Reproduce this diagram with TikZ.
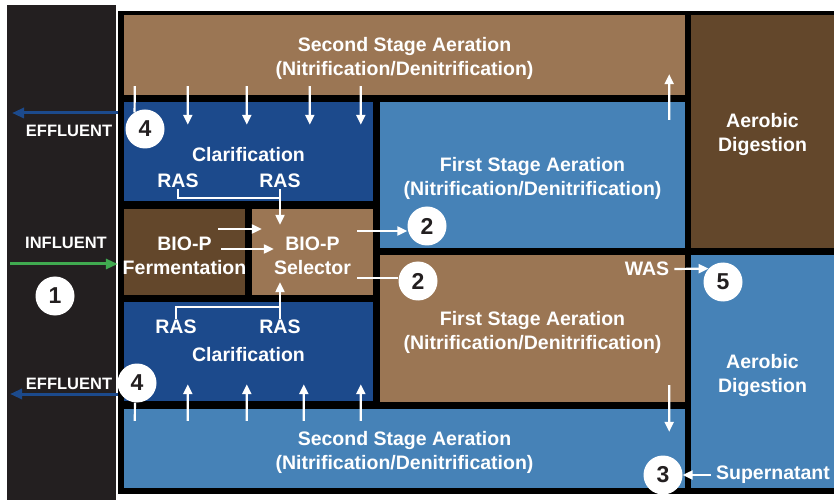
\documentclass[tikz,border=0pt]{standalone}
\usepackage{fontspec}
\setmainfont{Liberation Sans}
\usepackage{tikz}
\usetikzlibrary{positioning,calc,arrows.meta}
\definecolor{panelgray}{RGB}{35,31,32}
\definecolor{brownlight}{RGB}{155,118,84}
\definecolor{browndark}{RGB}{99,71,43}
\definecolor{bluedark}{RGB}{28,74,140}
\definecolor{bluelight}{RGB}{70,130,183}
\definecolor{greenflow}{RGB}{64,170,80}

\begin{document}
\begin{tikzpicture}[x=1bp, y=-1bp] %Plant layout
   			\tikzstyle{tank} = [rectangle, inner sep=0]
   			\tikzstyle{tanktext} = [inner sep=0, yshift=-3.5bp, text=white, align=center, font=\fontsize{19.5bp}{24bp}\selectfont\bfseries]
   			\tikzstyle{tag} = [inner sep=1bp, text=white, font=\fontsize{19.5bp}{24bp}\selectfont\bfseries]
   			\tikzstyle{sidetag} = [inner sep=1bp, text=white, font=\fontsize{16.5bp}{20bp}\selectfont\bfseries]
   			\tikzstyle{num} = [circle, fill=white, minimum size=39bp, inner sep=0, text=panelgray, font=\fontsize{23bp}{23bp}\selectfont\bfseries]
   			\tikzstyle{wline} = [white, line width=2.2bp]
   			\tikzstyle{flow} = [wline, -{Triangle[length=10bp,width=9bp]}]
   			\tikzstyle{outflow} = [bluedark, line width=3bp, -{Triangle[length=12bp,width=10bp]}]
   			\tikzstyle{inflow} = [greenflow, line width=3bp, -{Triangle[length=12bp,width=10bp]}]
   			\path[use as bounding box, fill=white] (0,0) rectangle (834,500);
   			\node[fill=panelgray, minimum width=109bp, minimum height=495bp, inner sep=0] (panel) at (61.5,252.5) {};
   			\node[fill=black, minimum width=716bp, minimum height=483bp, inner sep=0] (frame) at (476,252.5) {};
   			\node[tank, fill=brownlight, minimum width=561bp, minimum height=80bp, label={[tanktext]center:Second Stage Aeration\\(Nitrification/Denitrification)}] (topSSA) at (404.5,55) {};
   			\node[tank, fill=bluedark, minimum width=249bp, minimum height=99bp, label={[tanktext]center:Clarification}] (topClar) at (248.5,151.5) {};
   			\node[tank, fill=bluelight, minimum width=305bp, minimum height=146bp, label={[tanktext]center:First Stage Aeration\\(Nitrification/Denitrification)}] (topFSA) at (532.5,175) {};
   			\node[tank, fill=browndark, minimum width=143bp, minimum height=233bp, label={[tanktext]center:Aerobic\\Digestion}] (topAD) at (762.5,131.5) {};
   			\node[tank, fill=browndark, minimum width=121bp, minimum height=86bp, label={[tanktext]center:BIO-P\\Fermentation}] (ferm) at (184.5,252) {};
   			\node[tank, fill=brownlight, minimum width=121bp, minimum height=86bp, label={[tanktext]center:BIO-P\\Selector}] (sel) at (312.5,252) {};
   			\node[tank, fill=bluedark, minimum width=249bp, minimum height=99bp, label={[tanktext]center:Clarification}] (botClar) at (248.5,351.5) {};
   			\node[tank, fill=brownlight, minimum width=305bp, minimum height=147bp, label={[tanktext]center:First Stage Aeration\\(Nitrification/Denitrification)}] (botFSA) at (532.5,328.5) {};
   			\node[tank, fill=bluelight, minimum width=561bp, minimum height=79bp, label={[tanktext]center:Second Stage Aeration\\(Nitrification/Denitrification)}] (botSSA) at (404.5,448.5) {};
   			\node[tank, fill=bluelight, minimum width=143bp, minimum height=233bp, label={[tanktext]center:Aerobic\\Digestion}] (botAD) at (762.5,371.5) {};
   			\node[tag] (rasA1) at (178,181) {RAS};
   			\node[tag] (rasA2) at (280,181) {RAS};
   			\node[tag] (rasB1) at (176,327) {RAS};
   			\node[tag] (rasB2) at (280,327) {RAS};
   			\node[tag] (was) at (647,269) {WAS};
   			\node[tag] (super) at (773,475) {Supernatant};
   			\node[sidetag] (eff1) at (69,131) {EFFLUENT};
   			\node[sidetag] (infl) at (66,243) {INFLUENT};
   			\node[sidetag] (eff2) at (69,384) {EFFLUENT};
   			\foreach \name/\x/\y/\n in {n1/55/296/1, n2a/427/226/2, n2b/418/281/2, n3/663/475/3, n4a/145/129/4, n4b/137/383/4, n5/723/282/5}
   			{
       			\node[num] (\name) at (\x,\y) {\n};
   			}
   			\coordinate (out1) at (12,113);
   			\coordinate (out2) at (10,394);
   			\coordinate (in1) at (10,264);
   			\draw[outflow] (frame.west |- out1) -- (out1);
   			\draw[outflow] (frame.west |- out2) -- (out2);
   			\draw[inflow] (in1) -- (frame.west |- in1);
   			\draw[wline] ($(topSSA.south west)+(11,-9)$) -- (n4a.122);
   			\draw[wline] ($(botSSA.north west)+(11,12)$) -- (n4b.264);
   			\foreach \d in {64,123,186,237}
   			{
       			\draw[flow] ($(topSSA.south west)+(\d,-9)$) -- ($(topClar.north west)+(\d,23)$);
   			}
   			\foreach \d in {64,123,180,237}
   			{
       			\draw[flow] ($(botSSA.north west)+(\d,12)$) -- ($(botClar.south west)+(\d,-17)$);
   			}
   			\draw[wline] (rasA1.south) |- ($(rasA2.south)+(0,9)$);
   			\draw[flow] (rasA2.south) -- ($(sel.north -| rasA2.south)+(0,16)$);
   			\draw[wline] (rasB1.north) |- ($(rasB2.north)+(0,-12)$);
   			\draw[flow] (rasB2.north) -- ($(sel.south -| rasB2.north)+(0,-13)$);
   			\draw[flow] ($(ferm.east)+(-27,-23)$) -- ($(sel.west)+(10,-23)$);
   			\draw[flow] ($(ferm.east)+(-24,-3)$) -- ($(sel.west)+(22,-3)$);
   			\draw[flow] ($(sel.east)+(-16,-21)$) coordinate (s2a) -- (n2a.west |- s2a);
   			\draw[wline] ($(sel.east)+(-16,26)$) coordinate (s2b) -- (n2b.west |- s2b);
   			\draw[flow] ($(topFSA.north east)+(-16,18)$) -- ($(topSSA.south east)+(-16,-21)$);
   			\draw[flow] ($(botFSA.south east)+(-16,-17)$) -- ($(botSSA.north east)+(-16,23)$);
   			\draw[flow] ([xshift=4bp]was.east) -- (n5.137);
   			\draw[flow] ([xshift=-4bp]super.west) -- (n3.east);
\end{tikzpicture}
\end{document}
